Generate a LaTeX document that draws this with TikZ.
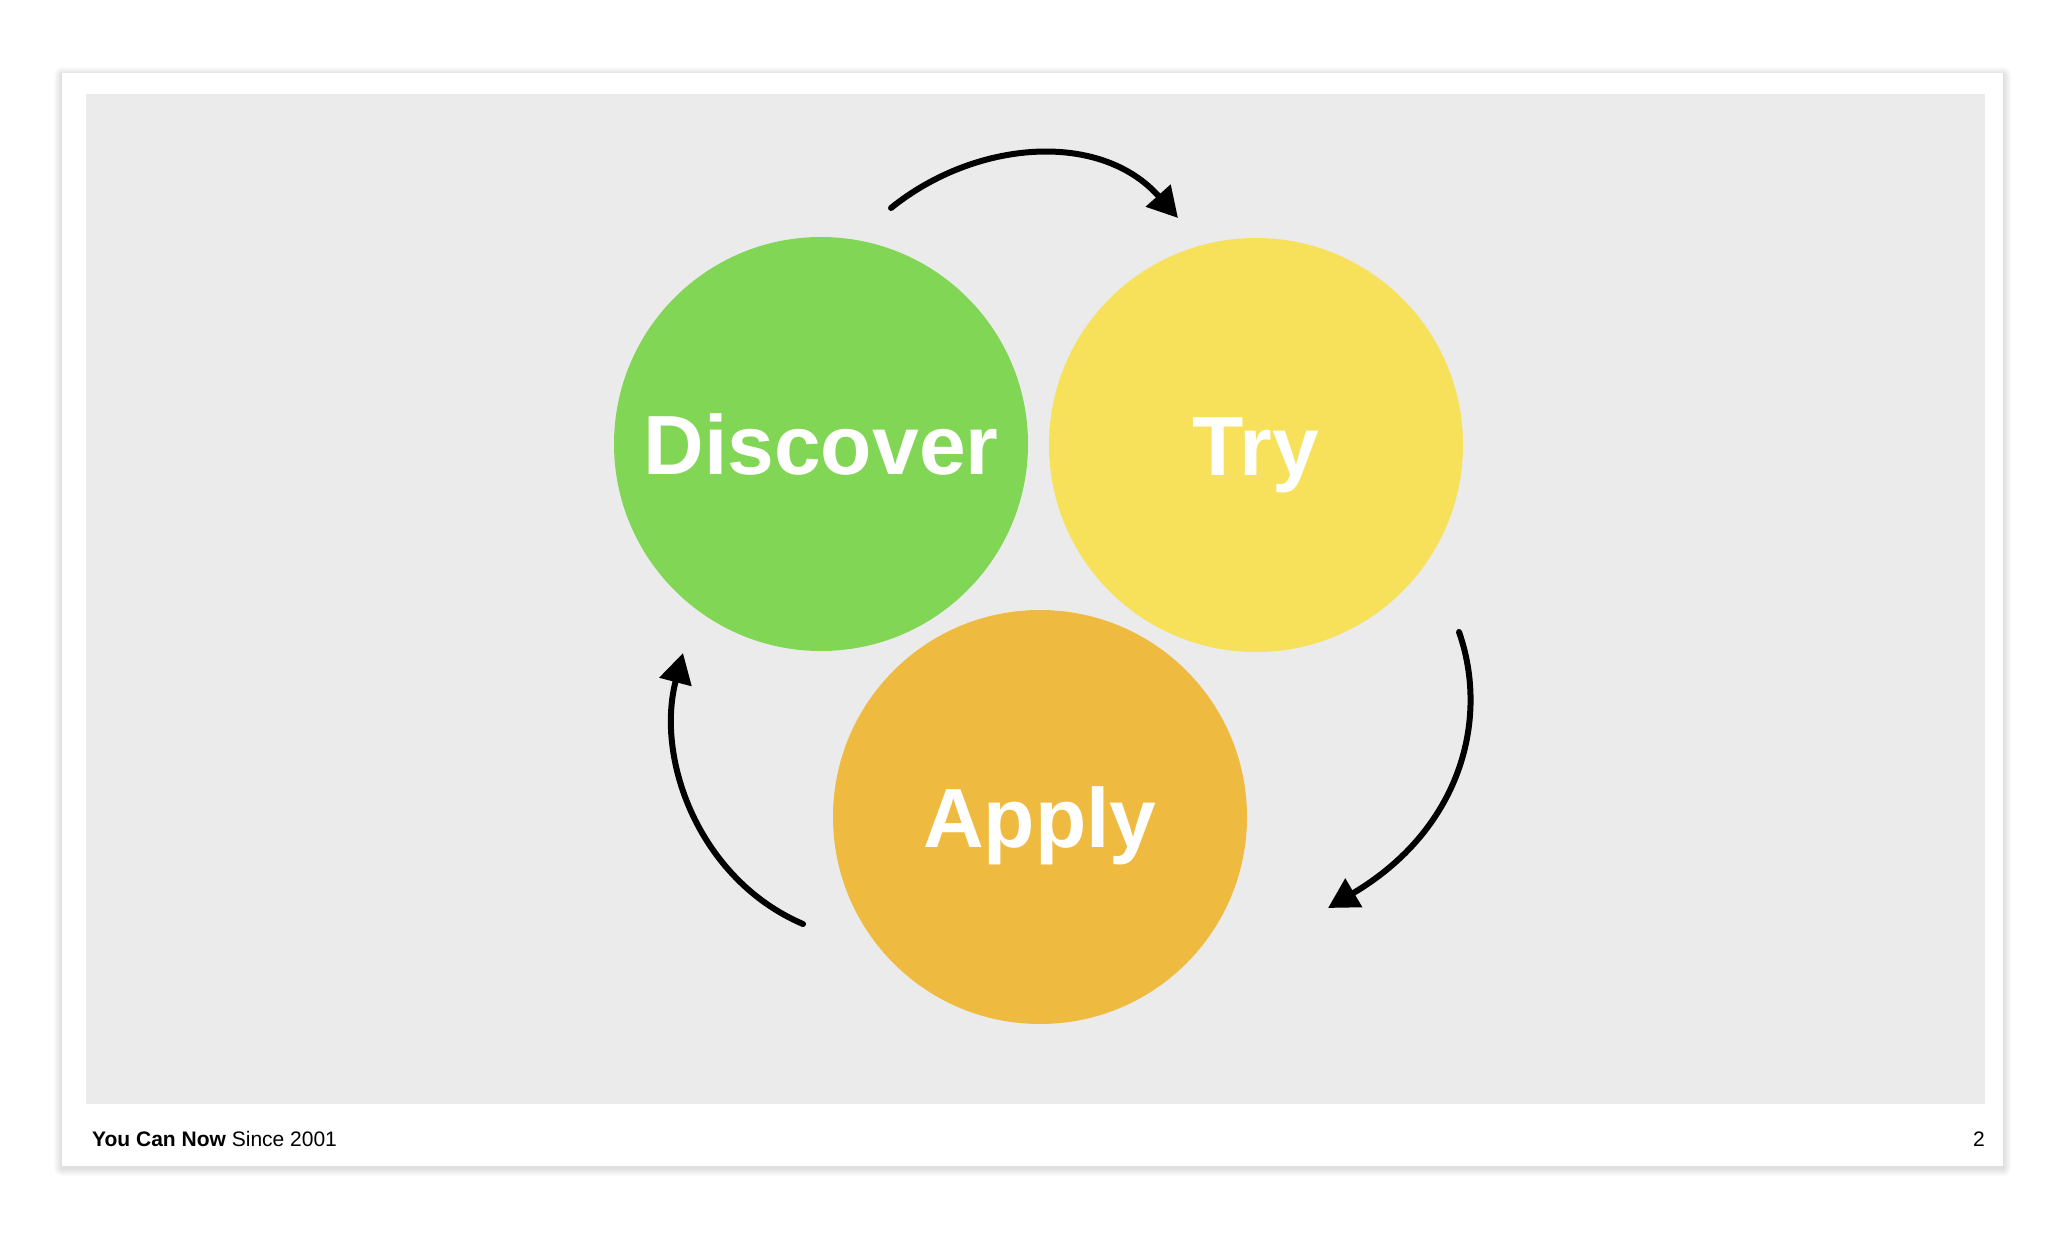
\documentclass[tikz,border=0pt]{standalone}
\usepackage{fontspec}
\setmainfont{Liberation Sans}
\usetikzlibrary{arrows.meta}
\definecolor{slidegrey}{HTML}{EBEBEB}
\definecolor{cgreen}{HTML}{82D655}
\definecolor{cyellow}{HTML}{F7E15A}
\definecolor{corange}{HTML}{EEBB40}
\tikzset{
  bubble/.style={circle, minimum size=414pt, inner sep=0pt, text=white,
    font=\fontsize{84}{84}\selectfont\bfseries, text height=60pt, text depth=0pt},
  sketcharrow/.style={line width=6pt, line cap=round, draw=black,
    -{Triangle[length=30pt,width=32pt]}},
  foot/.style={font=\fontsize{21}{21}\selectfont, inner sep=0pt, text=black}
}
\begin{document}
\begin{tikzpicture}[x=1pt,y=-1pt]
\useasboundingbox (0,0) rectangle (2070,1234);
\fill[white] (0,0) rectangle (2070,1234);
% card shadow
\foreach \i in {1,...,8}{
  \fill[black, opacity=0.015, rounded corners=\i pt] (62-\i,73-\i+2) rectangle (2003+\i,1166+\i+2);
}
\fill[white] (62,73) rectangle (2003,1166);
\fill[slidegrey] (86,94) rectangle (1985,1104);
% circles
\node[bubble, fill=cgreen] (discover) at (821,444) {Discover};
\node[bubble, fill=cyellow] (try) at (1256,445) {Try};
\node[bubble, fill=corange] (apply) at (1040,817) {Apply};
% arrow endpoints
\coordinate (t0) at (891,208);
\coordinate (t1) at (1178,218);
\coordinate (r0) at (1459,632);
\coordinate (r1) at (1328,908);
\coordinate (l0) at (803,924);
\coordinate (l1) at (683,653);
\draw[sketcharrow] (t0) .. controls (975,140) and (1100,130) .. (t1);
\draw[sketcharrow] (r0) .. controls (1490,720) and (1460,830) .. (r1);
\draw[sketcharrow] (l0) .. controls (700,880) and (655,760) .. (l1);
% footer
\node[foot, anchor=base west] (brand) at (92,1146) {\textbf{You Can Now} Since 2001};
\node[foot, anchor=base east] (page) at (1985,1146) {2};
\end{tikzpicture}
\end{document}
